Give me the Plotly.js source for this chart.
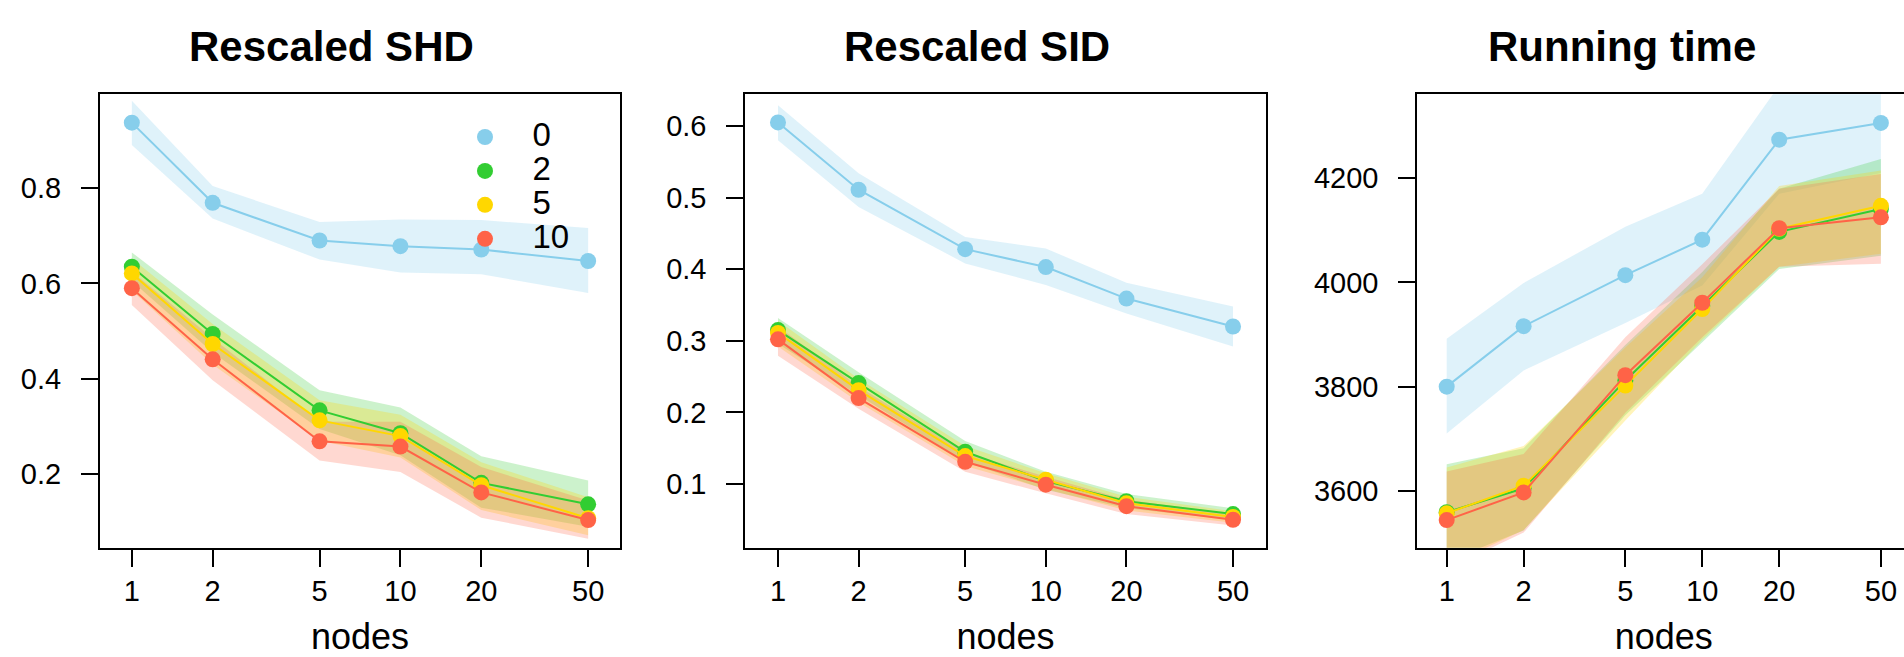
<!DOCTYPE html>
<html><head><meta charset="utf-8">
<script src="https://cdn.plot.ly/plotly-3.0.1.min.js"></script>
<style>html,body{margin:0;padding:0;background:#fff;overflow:hidden;} #chart{width:1915px;height:657px;}</style>
</head><body><div id="chart"></div>
<script>
// ---- data ----
const nodes = [1, 2, 5, 10, 20, 50];
const tickLabels = ['1', '2', '5', '10', '20', '50'];
const groups = ['0', '2', '5', '10'];
const panelTitles = ['Rescaled SHD', 'Rescaled SID', 'Running time'];

// Rescaled SHD (rows: groups 0,2,5,10)
const shdMean = [
  [0.937, 0.769, 0.690, 0.678, 0.671, 0.647],
  [0.635, 0.494, 0.334, 0.286, 0.182, 0.137],
  [0.621, 0.473, 0.313, 0.280, 0.177, 0.108],
  [0.590, 0.441, 0.269, 0.258, 0.162, 0.104]
];
const shdUpper = [
  [0.983, 0.804, 0.729, 0.734, 0.733, 0.716],
  [0.665, 0.535, 0.376, 0.340, 0.238, 0.187],
  [0.652, 0.515, 0.355, 0.325, 0.225, 0.152],
  [0.625, 0.485, 0.310, 0.310, 0.215, 0.145]
];
const shdLower = [
  [0.890, 0.736, 0.650, 0.623, 0.619, 0.580],
  [0.605, 0.455, 0.295, 0.240, 0.130, 0.090],
  [0.585, 0.430, 0.270, 0.235, 0.125, 0.072],
  [0.555, 0.397, 0.229, 0.205, 0.109, 0.065]
];

// Rescaled SID
const sidMean = [
  [0.605, 0.511, 0.428, 0.403, 0.359, 0.320],
  [0.315, 0.241, 0.145, 0.104, 0.076, 0.058],
  [0.311, 0.231, 0.139, 0.106, 0.073, 0.054],
  [0.302, 0.220, 0.131, 0.099, 0.069, 0.050]
];
const sidUpper = [
  [0.629, 0.534, 0.445, 0.429, 0.381, 0.348],
  [0.332, 0.256, 0.160, 0.117, 0.086, 0.066],
  [0.328, 0.247, 0.153, 0.115, 0.082, 0.062],
  [0.320, 0.236, 0.144, 0.110, 0.078, 0.058]
];
const sidLower = [
  [0.580, 0.487, 0.408, 0.378, 0.338, 0.292],
  [0.296, 0.224, 0.131, 0.092, 0.066, 0.050],
  [0.292, 0.214, 0.125, 0.093, 0.063, 0.046],
  [0.279, 0.205, 0.117, 0.087, 0.058, 0.042]
];

// Running time
const timeMean = [
  [3800, 3916, 4014, 4082, 4274, 4306],
  [3559, 3605, 3812, 3955, 4097, 4141],
  [3557, 3610, 3802, 3949, 4103, 4147],
  [3544, 3597, 3822, 3961, 4104, 4125]
];
const timeUpper = [
  [3892, 3999, 4107, 4170, 4378, 4400],
  [3651, 3682, 3880, 4020, 4180, 4237],
  [3645, 3686, 3875, 4010, 4185, 4215],
  [3637, 3671, 3895, 4035, 4180, 4208]
];
const timeLower = [
  [3710, 3831, 3922, 3994, 4170, 4210],
  [3465, 3524, 3745, 3885, 4026, 4051],
  [3455, 3525, 3735, 3890, 4030, 4055],
  [3450, 3520, 3750, 3895, 4030, 4036]
];

const yTicks = [[0.2, 0.4, 0.6, 0.8], [0.1, 0.2, 0.3, 0.4, 0.5, 0.6], [3600, 3800, 4000, 4200]];

// ---- style ----
const colors = ['#87CEEB', '#32CD32', '#FFD700', '#FF6347'];
const bandColors = ['rgba(135,206,235,0.27)', 'rgba(50,205,50,0.25)', 'rgba(255,215,0,0.27)', 'rgba(255,99,71,0.25)'];
const FONT = 'Liberation Sans, Arial, Helvetica, sans-serif';
const W = 1915, H = 657;

const panels = [
  {mean: shdMean, up: shdUpper, lo: shdLower, xa: 'x', ya: 'y'},
  {mean: sidMean, up: sidUpper, lo: sidLower, xa: 'x2', ya: 'y2'},
  {mean: timeMean, up: timeUpper, lo: timeLower, xa: 'x3', ya: 'y3'}
];

const traces = [];
panels.forEach(p => {
  groups.forEach((g, i) => {
    traces.push({
      type: 'scatter', mode: 'lines', xaxis: p.xa, yaxis: p.ya,
      x: nodes.concat(nodes.slice().reverse()),
      y: p.up[i].concat(p.lo[i].slice().reverse()),
      fill: 'toself', fillcolor: bandColors[i], line: {width: 0, color: 'rgba(0,0,0,0)'},
      hoverinfo: 'skip', showlegend: false
    });
  });
});
panels.forEach(p => {
  groups.forEach((g, i) => {
    traces.push({
      type: 'scatter', mode: 'lines+markers', xaxis: p.xa, yaxis: p.ya,
      x: nodes, y: p.mean[i], name: g,
      line: {color: colors[i], width: 2},
      marker: {color: colors[i], size: 16},
      showlegend: false
    });
  });
});
// legend entries (markers only)
groups.forEach((g, i) => {
  traces.push({
    type: 'scatter', mode: 'markers', xaxis: 'x', yaxis: 'y',
    x: [null], y: [null], name: '<span style="font-size:33px">' + g + '</span>',
    marker: {color: colors[i], size: 19}, showlegend: true
  });
});

const yDom = [1 - 547.7 / H, 1 - 94.3 / H];
function xAxis(d0, d1, range) {
  return {
    domain: [d0 / W, d1 / W], type: 'log', range: range,
    tickvals: nodes, ticktext: tickLabels, ticks: 'outside', ticklen: 17, tickwidth: 2, tickcolor: '#000',
    showline: true, mirror: true, linewidth: 2, linecolor: '#000', showgrid: false, zeroline: false,
    tickfont: {family: FONT, size: 29, color: '#000'}, ticklabelstandoff: -1,
    title: {text: 'nodes', font: {family: FONT, size: 36, color: '#000'}, standoff: 20},
    fixedrange: true
  };
}
function yAxis(range, vals) {
  return {
    domain: yDom, range: range, tickvals: vals, ticktext: vals.map(String),
    ticks: 'outside', ticklen: 17, tickwidth: 2, tickcolor: '#000',
    showline: true, mirror: true, linewidth: 2, linecolor: '#000', showgrid: false, zeroline: false,
    tickfont: {family: FONT, size: 29, color: '#000'}, ticklabelstandoff: 14,
    fixedrange: true
  };
}

const xa1 = xAxis(100, 620, [-0.1185, 1.8175]);
const xa2 = xAxis(745.3, 1265.7, [-0.122, 1.821]);
const xa3 = xAxis(1417.3, 1910.3, [-0.115, 1.814]);
xa1.anchor = 'y'; xa2.anchor = 'y2'; xa3.anchor = 'y3';
const ya1 = yAxis([0.0461, 0.9964], yTicks[0]); ya1.anchor = 'x';
const ya2 = yAxis([0.011, 0.6443], yTicks[1]); ya2.anchor = 'x2';
const ya3 = yAxis([3491, 4361], yTicks[2]); ya3.anchor = 'x3';

const titleX = [331, 976.6, 1622];
const annotations = panelTitles.map((t, i) => ({
  text: t, xref: 'paper', yref: 'paper', x: titleX[i] / W, y: 1 - 47 / H,
  xanchor: 'center', yanchor: 'middle', showarrow: false,
  font: {family: FONT, size: 42, color: '#000', weight: 'bold'}
}));

const layout = {
  width: W, height: H, margin: {l: 0, r: 0, t: 0, b: 0},
  paper_bgcolor: '#fff', plot_bgcolor: '#fff',
  font: {family: FONT, color: '#000'},
  xaxis: xa1, yaxis: ya1, xaxis2: xa2, yaxis2: ya2, xaxis3: xa3, yaxis3: ya3,
  annotations: annotations,
  showlegend: true,
  legend: {x: 437.5 / W, y: 1 - 115 / H, xanchor: 'left', yanchor: 'top', bgcolor: 'rgba(0,0,0,0)',
           font: {family: FONT, size: 23.8, color: '#000'}, itemwidth: 85, itemsizing: 'trace', tracegroupgap: 0}
};

Plotly.newPlot('chart', traces, layout, {displayModeBar: false, staticPlot: true});
</script></body></html>
